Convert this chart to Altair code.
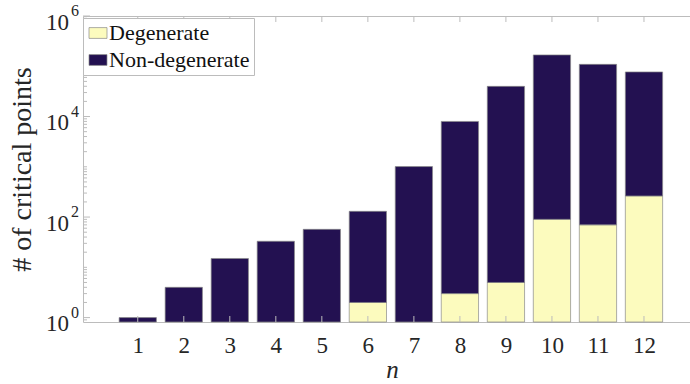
import altair as alt
import pandas as pd

# Critical point counts per n, split by type
n_values = list(range(1, 13))
degenerate = [0, 0, 0, 0, 0, 2, 0, 3, 5, 90, 70, 263]
non_degenerate = [1, 4, 15, 33, 57, 128, 1010, 7980, 39800, 168000, 109000, 76800]

series_names = ["Degenerate", "Non-degenerate"]
series_colors = ["#FCFBBE", "#231151"]

major_exponents = [0, 2, 4, 6]
exponent_labels = ["0", "2", "4", "6"]

Y_MIN, Y_MAX = 0.817, 1e6
X_MIN, X_MAX = -0.19, 13.0
HALF_BAR = 0.405
W, H = 607, 306
FONT = "'Liberation Serif', 'Times New Roman', serif"
TEXT_COLOR = "#262626"
FRAME = "#bcbcbc"

# stacked bar segments on a log scale: each segment has its own bottom/top
rows = []
for n, d, nd in zip(n_values, degenerate, non_degenerate):
    if d > 0:
        rows.append({"n": n, "series": "Degenerate", "lo": Y_MIN, "hi": d})
    rows.append({"n": n, "series": "Non-degenerate",
                 "lo": d if d > 0 else Y_MIN, "hi": d + nd})
bars_df = pd.DataFrame(rows)
bars_df["left"] = bars_df["n"] - HALF_BAR
bars_df["right"] = bars_df["n"] + HALF_BAR

x_scale = alt.Scale(domain=[X_MIN, X_MAX], nice=False, zero=False)
y_scale = alt.Scale(type="log", domain=[Y_MIN, Y_MAX], nice=False)

bars = alt.Chart(bars_df).mark_bar(stroke="#8a8a8a", strokeWidth=0.7).encode(
    x=alt.X("left:Q", scale=x_scale,
            axis=alt.Axis(values=n_values, format="d", ticks=False, domain=False,
                          grid=False, labelFont=FONT, labelFontSize=23,
                          labelPadding=12, title="n", titleFont=FONT,
                          titleFontSize=25, titleFontStyle="italic",
                          titleFontWeight="normal",
                          titleX=309, titleY=55, titleBaseline="alphabetic")),
    x2="right:Q",
    y=alt.Y("hi:Q", scale=y_scale,
            axis=alt.Axis(labels=False, ticks=False, domain=False, grid=False,
                          title="# of critical points", titleFont=FONT,
                          titleFontSize=28, titleFontWeight="normal",
                          titleAngle=270, titleX=-53, titleY=153,
                          titleAlign="center", titleBaseline="alphabetic")),
    y2="lo:Q",
    color=alt.Color("series:N",
                    scale=alt.Scale(domain=series_names, range=series_colors),
                    legend=alt.Legend(title=None, orient="none", legendX=0, legendY=2,
                                      direction="vertical",
                                      symbolType="M-1,-0.6H1V0.6H-1Z",
                                      symbolSize=324, symbolStrokeColor="#8a8a8a",
                                      symbolStrokeWidth=0.7, symbolOpacity=1,
                                      labelFont=FONT, labelFontSize=22,
                                      labelOffset=0, rowPadding=5, padding=4,
                                      fillColor="white", strokeColor=FRAME)),
)

# inward ticks: x ticks on top and bottom, y major/minor on the left
xt_df = pd.DataFrame({"n": n_values})
top_ticks = alt.Chart(xt_df).mark_rule(color=FRAME, strokeWidth=1).encode(
    x=alt.X("n:Q", scale=x_scale), y=alt.value(0), y2=alt.value(6))
bottom_ticks = alt.Chart(xt_df).mark_rule(color=FRAME, strokeWidth=1).encode(
    x=alt.X("n:Q", scale=x_scale), y=alt.value(H), y2=alt.value(H - 6))

major_vals = [10 ** e for e in major_exponents]
minor_vals = [0.9] + [m * 10 ** k for k in range(0, 6) for m in range(2, 10)] + [10, 1000, 100000]
major_df = pd.DataFrame({"v": major_vals, "exp": exponent_labels})
minor_df = pd.DataFrame({"v": minor_vals})

major_ticks = alt.Chart(major_df).mark_rule(color=FRAME, strokeWidth=1).encode(
    y=alt.Y("v:Q", scale=y_scale), x=alt.value(0), x2=alt.value(7))
minor_ticks = alt.Chart(minor_df).mark_rule(color=FRAME, strokeWidth=1).encode(
    y=alt.Y("v:Q", scale=y_scale), x=alt.value(0), x2=alt.value(4))

# "10" with a raised exponent for each labelled decade
base_labels = alt.Chart(major_df).mark_text(
    font=FONT, fontSize=23, align="right", baseline="middle", dy=6.5,
    color=TEXT_COLOR).encode(
    y=alt.Y("v:Q", scale=y_scale), x=alt.value(-14), text=alt.value("10"))
exp_labels = alt.Chart(major_df).mark_text(
    font=FONT, fontSize=16, align="left", baseline="middle", dy=-5,
    color=TEXT_COLOR).encode(
    y=alt.Y("v:Q", scale=y_scale), x=alt.value(-12), text="exp:N")

chart = alt.layer(
    bars, top_ticks, bottom_ticks, major_ticks, minor_ticks, base_labels, exp_labels
).properties(
    width=W, height=H,
    autosize=alt.AutoSizeParams(type="none"),
    padding={"left": 83, "top": 16, "right": 0, "bottom": 62},
).configure(
    background="white", font=FONT
).configure_view(
    stroke=FRAME, strokeWidth=1
).configure_axis(
    labelColor=TEXT_COLOR, titleColor=TEXT_COLOR
).configure_legend(
    labelColor="#111111"
)

chart.save("out.html", embed_options={"renderer": "svg", "actions": False})
